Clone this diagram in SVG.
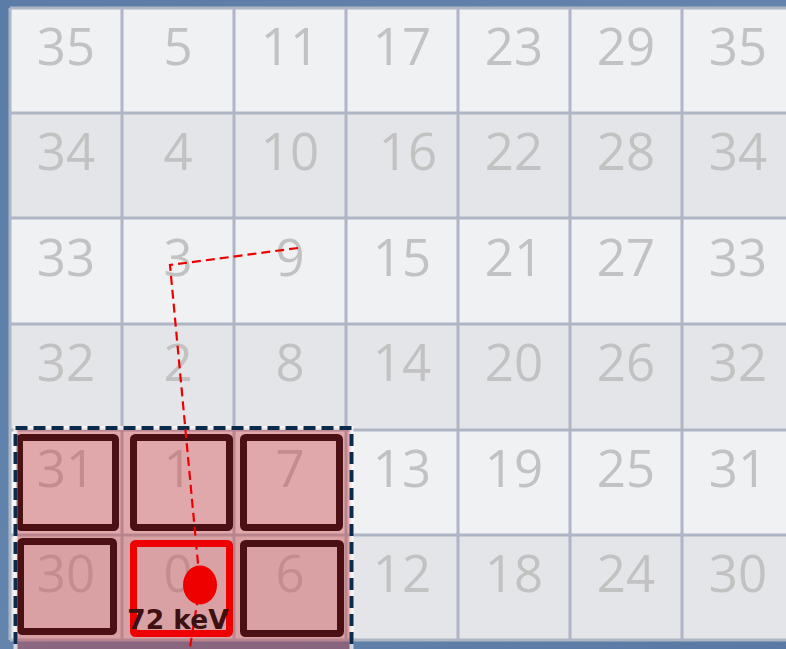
<svg xmlns="http://www.w3.org/2000/svg" width="786" height="649" viewBox="0 0 786 649">
<defs>
<linearGradient id="bg" x1="0" y1="0" x2="1" y2="1">
<stop offset="0" stop-color="#5a7ca6"/>
<stop offset="0.5" stop-color="#6384ad"/>
<stop offset="1" stop-color="#587aa4"/>
</linearGradient>
<style>
.la{fill:#f0f1f3}
.da{fill:#e4e5e8}
.gl{stroke:#aeb5c4;stroke-width:3;fill:none}
.n{font-family:"Open Sans","DejaVu Sans",sans-serif;font-size:51px;fill:#c2c2c2;text-anchor:middle}
.cell{fill:none;stroke:#4a1014;stroke-width:7;stroke-linejoin:round}
</style>
</defs>
<rect x="0" y="0" width="786" height="649" fill="url(#bg)"/>
<g id="grid">
<rect class="la" x="10" y="8" width="790" height="105"/>
<rect class="da" x="10" y="113" width="790" height="105"/>
<rect class="la" x="10" y="218" width="790" height="106"/>
<rect class="da" x="10" y="324" width="790" height="106"/>
<rect class="la" x="10" y="430" width="790" height="105"/>
<rect class="da" x="10" y="535" width="790" height="105"/>
<path class="gl" d="M10 8H800M10 113H800M10 218H800M10 324H800M10 430H800M10 535H800M10 640H800M10 8V640M122 8V640M234 8V640M346 8V640M458 8V640M570 8V640M682 8V640"/>
</g>
<g id="numbers">
<text class="n" x="66" y="65">35</text><text class="n" x="178" y="65">5</text><text class="n" x="290" y="65">11</text><text class="n" x="402" y="65">17</text><text class="n" x="514" y="65">23</text><text class="n" x="626" y="65">29</text><text class="n" x="738" y="65">35</text>
<text class="n" x="66" y="170">34</text><text class="n" x="178" y="170">4</text><text class="n" x="290" y="170">10</text><text class="n" x="408" y="170">16</text><text class="n" x="514" y="170">22</text><text class="n" x="626" y="170">28</text><text class="n" x="738" y="170">34</text>
<text class="n" x="66" y="276">33</text><text class="n" x="178" y="276">3</text><text class="n" x="290" y="276">9</text><text class="n" x="402" y="276">15</text><text class="n" x="514" y="276">21</text><text class="n" x="626" y="276">27</text><text class="n" x="738" y="276">33</text>
<text class="n" x="66" y="381">32</text><text class="n" x="178" y="381">2</text><text class="n" x="290" y="381">8</text><text class="n" x="402" y="381">14</text><text class="n" x="514" y="381">20</text><text class="n" x="626" y="381">26</text><text class="n" x="738" y="381">32</text>
<text class="n" x="66" y="487">31</text><text class="n" x="178" y="487">1</text><text class="n" x="290" y="487">7</text><text class="n" x="402" y="487">13</text><text class="n" x="514" y="487">19</text><text class="n" x="626" y="487">25</text><text class="n" x="738" y="487">31</text>
<text class="n" x="66" y="592">30</text><text class="n" x="178" y="592">0</text><text class="n" x="290" y="592">6</text><text class="n" x="402" y="592">12</text><text class="n" x="514" y="592">18</text><text class="n" x="626" y="592">24</text><text class="n" x="738" y="592">30</text>
</g>
<g id="cluster">
<rect x="15.5" y="428" width="336" height="230" fill="rgb(200,61,63)" fill-opacity="0.4"/>
<rect class="cell" x="19.5" y="437.5" width="96" height="90" rx="2"/>
<rect class="cell" x="133.5" y="437.5" width="96" height="90" rx="2"/>
<rect class="cell" x="243.5" y="437.5" width="96" height="90" rx="2"/>
<rect class="cell" x="20.5" y="541.5" width="93" height="90" rx="2"/>
<rect class="cell" x="243.5" y="543.5" width="97" height="90" rx="2"/>
<rect x="133.5" y="543.5" width="96" height="90" rx="2" fill="none" stroke="#ee0000" stroke-width="7" stroke-linejoin="round"/>
<rect x="15.5" y="428" width="336" height="240" fill="none" stroke="#ffffff" stroke-opacity="0.7" stroke-width="4"/>
<rect x="15.5" y="428" width="336" height="240" fill="none" stroke="#0b2a4c" stroke-width="4" stroke-dasharray="12 6" stroke-linejoin="round"/>
</g>
<g id="connectors">
<path d="M298 248L170 265L200 585L188 660" fill="none" stroke="#ee0000" stroke-width="2.2" stroke-dasharray="9 5"/>
</g>
<g id="hit">
<ellipse cx="200" cy="585" rx="17" ry="19.5" fill="#ee0000"/>
<text x="178" y="629" font-family="DejaVu Sans, sans-serif" font-weight="bold" font-size="26.5" fill="#3e1012" text-anchor="middle">72 keV</text>
</g>
</svg>
